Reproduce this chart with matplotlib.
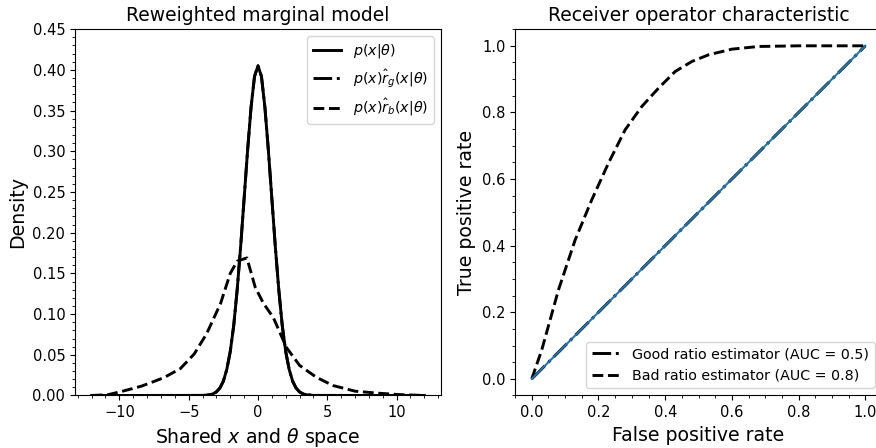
import numpy as np
import matplotlib
matplotlib.use('Agg')
import matplotlib.pyplot as plt
from matplotlib.ticker import AutoMinorLocator

# left panel: model density p(x|theta)
x_model = [-12, -4, -3.5, -3.25, -3, -2.75, -2.5, -2.25, -2, -1.75, -1.5, -1.25, -1, -0.75, -0.5, -0.25,
           0, 0.25, 0.5, 0.75, 1, 1.25, 1.5, 1.75, 2, 2.25, 2.5, 2.75, 3, 3.25, 3.5, 4, 12]
p_model = [0, 0.0001, 0.0009, 0.002, 0.0044, 0.0091, 0.0175, 0.032, 0.054, 0.086, 0.130, 0.183, 0.242, 0.301, 0.354, 0.392,
           0.405, 0.392, 0.354, 0.301, 0.242, 0.183, 0.130, 0.086, 0.054, 0.032, 0.0175, 0.0091, 0.0044, 0.002, 0.0009, 0.0001, 0]

# good ratio estimator reweighting: same as the model
p_good = list(p_model)

# bad ratio estimator reweighting
x_bad = [-12, -10.8, -9.6, -8.4, -6.8, -5.6, -4.6, -3.7, -2.7, -2.0, -1.5, -0.8, -0.2, 0.4, 1.1, 2.05,
         3.0, 4.2, 5.4, 7.0, 8.7, 10.1, 12]
p_bad = [0, 0.001, 0.006, 0.0115, 0.0218, 0.033, 0.051, 0.076, 0.113, 0.150, 0.165, 0.169, 0.133, 0.113, 0.096, 0.059,
         0.037, 0.0225, 0.0123, 0.0053, 0.0028, 0.0012, 0]

# right panel: ROC curves
fpr_good = [0, 0.25, 0.5, 0.75, 1]
tpr_good = [0, 0.25, 0.5, 0.75, 1]
fpr_bad = [0, 0.03, 0.08, 0.13, 0.18, 0.23, 0.28, 0.33, 0.38, 0.43, 0.48, 0.53, 0.6, 0.68, 0.8, 1.0]
tpr_bad = [0, 0.087, 0.267, 0.417, 0.538, 0.648, 0.748, 0.818, 0.873, 0.923, 0.953, 0.973, 0.99, 0.998, 1.0, 1.0]

fig = plt.figure(figsize=(8.76, 4.48), dpi=100)
ax1 = fig.add_axes([0.0856, 0.1172, 0.4178, 0.8177])
ax2 = fig.add_axes([0.588, 0.1172, 0.4189, 0.8177])

ax1.plot(x_model, p_model, 'k-', lw=2.1, label=r'$p(x|\theta)$')
ax1.plot(x_model, p_good, 'k-.', lw=2.1, label=r'$p(x)\hat{r}_g(x|\theta)$')
ax1.plot(x_bad, p_bad, 'k--', lw=2.1, label=r'$p(x)\hat{r}_b(x|\theta)$')
ax1.set_ylim(0, 0.45)
ax1.set_xticks([-10, -5, 0, 5, 10])
ax1.set_yticks(np.arange(0, 0.451, 0.05))
ax1.xaxis.set_minor_locator(AutoMinorLocator(5))
ax1.yaxis.set_minor_locator(AutoMinorLocator(5))
ax1.set_title('Reweighted marginal model', fontsize=13.5)
ax1.set_xlabel(r'Shared $x$ and $\theta$ space', fontsize=13.6)
ax1.set_ylabel('Density', fontsize=13.6)
ax1.tick_params(labelsize=10.5)
ax1.legend(loc='upper right', fontsize=10.3)

ax2.plot(fpr_good, tpr_good, 'k-.', lw=2.1, label='Good ratio estimator (AUC = 0.5)')
ax2.plot(fpr_bad, tpr_bad, 'k--', lw=2.1, label='Bad ratio estimator (AUC = 0.8)')
ax2.plot([0, 1], [0, 1], color='#1f77b4', lw=1.5)
ax2.set_xlim(-0.05, 1.05)
ax2.set_ylim(-0.05, 1.05)
ax2.xaxis.set_minor_locator(AutoMinorLocator(4))
ax2.yaxis.set_minor_locator(AutoMinorLocator(4))
ax2.set_title('Receiver operator characteristic', fontsize=13.5)
ax2.set_xlabel('False positive rate', fontsize=13.6)
ax2.set_ylabel('True positive rate', fontsize=13.6)
ax2.tick_params(labelsize=10.5)
ax2.legend(loc='lower right', fontsize=10.3)

fig.savefig('out.png', dpi=100)
